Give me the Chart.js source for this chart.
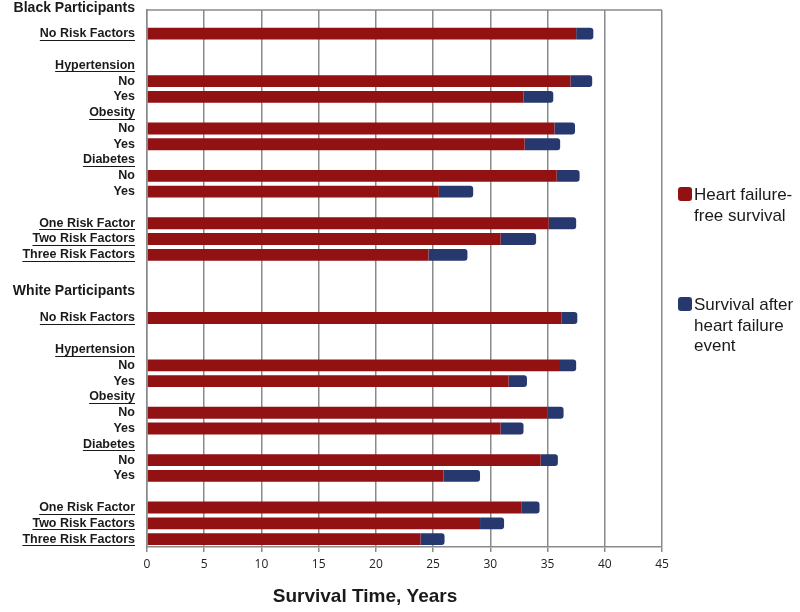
<!DOCTYPE html>
<html>
<head>
<meta charset="utf-8">
<script src="https://cdn.jsdelivr.net/npm/chart.js@4/dist/chart.umd.min.js"></script>
<style>
  body { margin: 0; background: #fff; }
  #wrap { position: relative; width: 800px; height: 612px; }
  .legend-item { position: absolute; left: 678px; font-family: "Liberation Sans", Arial, sans-serif; font-size: 17px; line-height: 20.5px; color: #1a1a1a; white-space: nowrap; }
  .legend-item .sw { position: absolute; left: 0; top: 2px; width: 14px; height: 14px; border-radius: 3px; }
  .legend-item .tx { margin-left: 16px; }
</style>
</head>
<body>
<div id="wrap">
  <canvas id="myChart" width="800" height="612"></canvas>
  <div class="legend-item" style="top:185px"><span class="sw" style="background:#921214"></span><div class="tx">Heart failure-<br>free survival</div></div>
  <div class="legend-item" style="top:295px"><span class="sw" style="background:#27386f"></span><div class="tx">Survival after<br>heart failure<br>event</div></div>
</div>
<script>
// rows in each participant group (blank string = empty spacer row)
const groupRows = ['No Risk Factors', '', 'Hypertension', 'No', 'Yes', 'Obesity', 'No', 'Yes',
    'Diabetes', 'No', 'Yes', '', 'One Risk Factor', 'Two Risk Factors', 'Three Risk Factors'];
const underlined = ['No Risk Factors', 'Hypertension', 'Obesity', 'Diabetes',
    'One Risk Factor', 'Two Risk Factors', 'Three Risk Factors'];
const headerRows = ['Hypertension', 'Obesity', 'Diabetes'];

// values per bar row: No risk, HTN no/yes, Obesity no/yes, Diabetes no/yes, one/two/three factors
const blackFree  = [37.5, 37.0, 32.9, 35.6, 33.0, 35.8, 25.5, 35.1, 30.9, 24.6];
const blackAfter = [1.5, 1.9, 2.6, 1.8, 3.1, 2.0, 3.0, 2.4, 3.1, 3.4];
const whiteFree  = [36.2, 36.0, 31.6, 35.0, 30.9, 34.4, 25.9, 32.7, 29.1, 23.9];
const whiteAfter = [1.4, 1.5, 1.6, 1.4, 2.0, 1.5, 3.2, 1.6, 2.1, 2.1];

const groupTitles = ['Black Participants', 'White Participants'];
const xTicks = [0, 5, 10, 15, 20, 25, 30, 35, 40, 45];
const xTitle = 'Survival Time, Years';

// build the full list of category rows
function buildGroup(free, after) {
    let i = 0;
    const f = [], a = [];
    groupRows.forEach(function(r) {
        if (r === '' || headerRows.includes(r)) {
            f.push(null); a.push(null);
        } else {
            f.push(free[i]); a.push(after[i]); i++;
        }
    });
    return { f: f, a: a };
}
const b = buildGroup(blackFree, blackAfter);
const w = buildGroup(whiteFree, whiteAfter);
const labels = [''].concat(groupRows, ['', '', ''], groupRows);
const freeData = [null].concat(b.f, [null, null, null], w.f);
const afterData = [null].concat(b.a, [null, null, null], w.a);

const textPlugin = {
    id: 'textPlugin',
    beforeDatasetsDraw(chart) {
        const ctx = chart.ctx, a = chart.chartArea;
        ctx.save();
        ctx.strokeStyle = '#8a8a8a';
        ctx.lineWidth = 1.5;
        ctx.beginPath();
        ctx.moveTo(a.left, a.top);
        ctx.lineTo(a.right, a.top);
        ctx.stroke();
        ctx.restore();
    },
    afterDraw(chart) {
        const ctx = chart.ctx, a = chart.chartArea, y = chart.scales.y;
        const slot = y.getPixelForTick(1) - y.getPixelForTick(0);
        const rightEdge = a.left - 12;
        ctx.save();
        // underlines under heading labels
        ctx.font = 'bold 12.5px "Liberation Sans", Arial, sans-serif';
        ctx.strokeStyle = '#1a1a1a';
        ctx.lineWidth = 1;
        labels.forEach(function(l, i) {
            if (underlined.includes(l)) {
                const yy = Math.round(y.getPixelForTick(i) + 6) + 0.5;
                const tw = ctx.measureText(l).width;
                ctx.beginPath();
                ctx.moveTo(rightEdge - tw, yy);
                ctx.lineTo(rightEdge, yy);
                ctx.stroke();
            }
        });
        // group titles
        ctx.font = 'bold 14px "Liberation Sans", Arial, sans-serif';
        ctx.fillStyle = '#1a1a1a';
        ctx.textAlign = 'right';
        ctx.textBaseline = 'middle';
        ctx.fillText(groupTitles[0], rightEdge, y.getPixelForTick(0) - 0.6 * slot);
        ctx.fillText(groupTitles[1], rightEdge, y.getPixelForTick(17) + 0.3 * slot);
        // x axis title
        ctx.font = 'bold 19px "Liberation Sans", Arial, sans-serif';
        ctx.textAlign = 'center';
        ctx.fillText(xTitle, 365, 597);
        ctx.restore();
    }
};

new Chart(document.getElementById('myChart'), {
    type: 'bar',
    data: {
        labels: labels,
        datasets: [{
            label: 'Heart failure-free survival',
            data: freeData,
            backgroundColor: '#921214',
            categoryPercentage: 1,
            barPercentage: 0.75
        }, {
            label: 'Survival after heart failure event',
            data: afterData,
            backgroundColor: '#27386f',
            borderRadius: 3,
            borderSkipped: 'start',
            categoryPercentage: 1,
            barPercentage: 0.75
        }]
    },
    options: {
        indexAxis: 'y',
        responsive: false,
        animation: false,
        layout: { padding: { top: 10, right: 138, left: 0, bottom: 0 } },
        plugins: { legend: { display: false }, tooltip: { enabled: false } },
        scales: {
            x: {
                stacked: true,
                min: 0,
                max: 45,
                afterBuildTicks: function(scale) {
                    scale.ticks = xTicks.map(function(v) { return { value: v }; });
                },
                afterFit: function(scale) { scale.height = 65; },
                grid: { color: '#8a8a8a', lineWidth: 1.5, tickLength: 5 },
                border: { color: '#8a8a8a', width: 1.5 },
                ticks: { color: '#222', padding: 5, font: { family: '"Open Sans", sans-serif', size: 12 } }
            },
            y: {
                stacked: true,
                afterFit: function(scale) {
                    scale.width = 147;
                    scale.paddingTop = 0;
                    scale.paddingBottom = 0;
                },
                grid: { display: false, drawTicks: false },
                border: { color: '#8a8a8a', width: 1.5 },
                ticks: {
                    autoSkip: false,
                    padding: 12,
                    color: '#1a1a1a',
                    font: { family: '"Liberation Sans", Arial, sans-serif', size: 12.5, weight: 'bold' }
                }
            }
        }
    },
    plugins: [textPlugin]
});
</script>
</body>
</html>
